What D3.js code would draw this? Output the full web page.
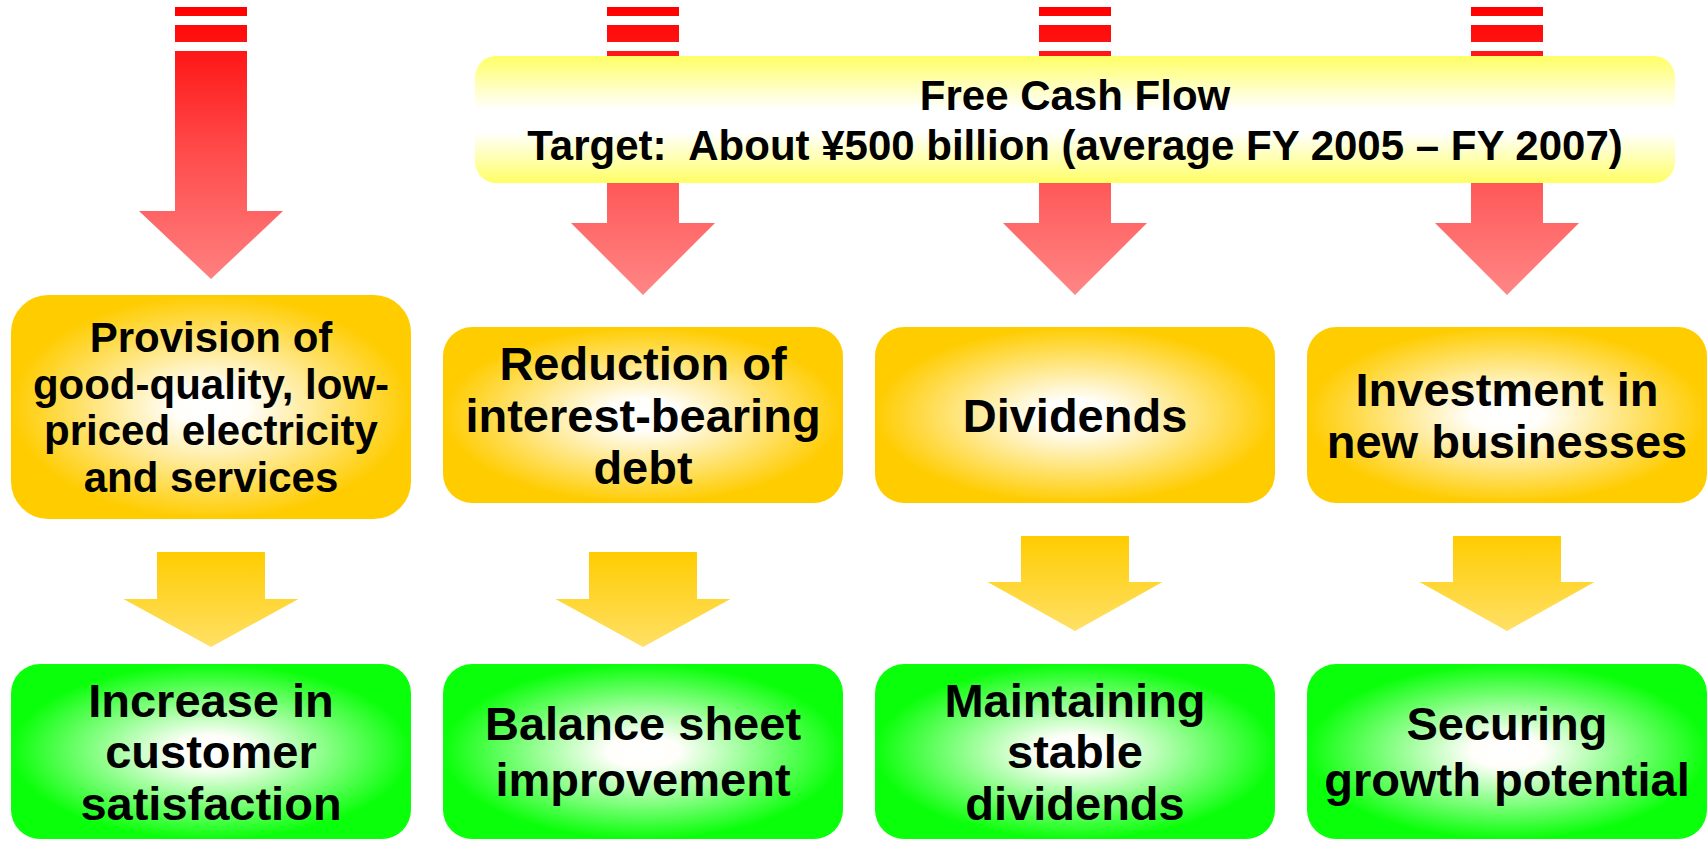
<!DOCTYPE html>
<html>
<head>
<meta charset="utf-8">
<script src="https://cdn.jsdelivr.net/npm/d3@7"></script>
<style>
  html, body { margin: 0; padding: 0; background: #fff; }
  svg { display: block; font-family: "Liberation Sans", Arial, sans-serif; font-weight: bold; }
</style>
</head>
<body>
<div id="chart"></div>
<script>
// text content of the diagram
const headline = ["Free Cash Flow", "Target:  About ¥500 billion (average FY 2005 – FY 2007)"];
const uses = [
  ["Provision of", "good-quality, low-", "priced electricity", "and services"],
  ["Reduction of", "interest-bearing", "debt"],
  ["Dividends"],
  ["Investment in", "new businesses"]
];
const outcomes = [
  ["Increase in", "customer", "satisfaction"],
  ["Balance sheet", "improvement"],
  ["Maintaining", "stable", "dividends"],
  ["Securing", "growth potential"]
];

const width = 1708, height = 842;

const svg = d3.select('#chart').append('svg')
  .attr('width', width)
  .attr('height', height);

const defs = svg.append('defs');

// gradients
const red = defs.append('linearGradient')
  .attr('id', 'redGrad')
  .attr('gradientUnits', 'userSpaceOnUse')
  .attr('x1', 0).attr('x2', 0).attr('y1', 7).attr('y2', 292);
red.append('stop').attr('offset', 0).attr('stop-color', '#ff0000');
red.append('stop').attr('offset', 0.5).attr('stop-color', '#ff4a4a');
red.append('stop').attr('offset', 1).attr('stop-color', '#ff8585');

const gold = defs.append('linearGradient')
  .attr('id', 'goldArrow')
  .attr('x1', 0).attr('x2', 0).attr('y1', 0).attr('y2', 1);
gold.append('stop').attr('offset', 0).attr('stop-color', '#ffcc00');
gold.append('stop').attr('offset', 1).attr('stop-color', '#ffe066');

function radial(id, edge) {
  const g = defs.append('radialGradient')
    .attr('id', id)
    .attr('cx', 0.5).attr('cy', 0.5).attr('r', 0.5);
  g.append('stop').attr('offset', 0).attr('stop-color', '#ffffff');
  g.append('stop').attr('offset', 0.18).attr('stop-color', '#fffefa');
  g.append('stop').attr('offset', 1).attr('stop-color', edge);
}
radial('orangeBox', '#ffcc00');
radial('greenBox', '#0aff0a');

const band = defs.append('linearGradient')
  .attr('id', 'fcfGrad')
  .attr('x1', 0).attr('x2', 0).attr('y1', 0).attr('y2', 1);
band.append('stop').attr('offset', 0).attr('stop-color', '#ffff66');
band.append('stop').attr('offset', 0.42).attr('stop-color', '#ffffff');
band.append('stop').attr('offset', 0.6).attr('stop-color', '#ffffff');
band.append('stop').attr('offset', 1).attr('stop-color', '#ffff66');

// columns
const x = d3.scaleBand()
  .domain(d3.range(uses.length))
  .range([11, 1707])
  .paddingInner(32 / 432);

// vertical layout of each column
const rows = i => i === 0
  ? {shaftEnd: 211, tip: 279, boxTop: 295, boxBot: 519, aTop: 552, aHead: 599, aTip: 647}
  : {shaftEnd: 223, tip: 295, boxTop: 327, boxBot: 503,
     aTop: i === 1 ? 552 : 536, aHead: i === 1 ? 599 : 582, aTip: i === 1 ? 647 : 631};
const resultTop = 664, resultBot = 839;

function rounded(g, x0, y0, w, h, fill) {
  g.append('rect')
    .attr('x', x0).attr('y', y0)
    .attr('width', w).attr('height', h)
    .attr('rx', Math.min(w, h) * 0.1667)
    .attr('fill', fill);
}

function label(g, cx, cy, lines, fs, lh) {
  const first = cy - (lines.length - 1) * lh / 2 + fs * 0.716 / 2;
  const t = g.append('text')
    .attr('text-anchor', 'middle')
    .attr('font-size', fs + 'px')
    .attr('fill', '#000')
    .style('white-space', 'pre');
  t.selectAll('tspan')
    .data(lines)
    .join('tspan')
      .attr('x', cx)
      .attr('y', (d, j) => first + j * lh)
      .text(d => d);
}

const cols = svg.selectAll('g.col')
  .data(d3.range(uses.length))
  .join('g')
    .attr('class', 'col');

cols.each(function(i) {
  const g = d3.select(this);
  const r = rows(i);
  const x0 = x(i), bw = x.bandwidth(), cx = x0 + bw / 2;

  // red arrow: two stripes then shaft + head
  const sw = 72, hw = 144;
  g.append('rect').attr('x', cx - sw / 2).attr('y', 7).attr('width', sw).attr('height', 9)
    .attr('fill', 'url(#redGrad)');
  g.append('rect').attr('x', cx - sw / 2).attr('y', 25).attr('width', sw).attr('height', 17)
    .attr('fill', 'url(#redGrad)');
  g.append('path')
    .attr('d', d3.line()([
      [cx - sw / 2, 51], [cx + sw / 2, 51], [cx + sw / 2, r.shaftEnd], [cx + hw / 2, r.shaftEnd],
      [cx, r.tip], [cx - hw / 2, r.shaftEnd], [cx - sw / 2, r.shaftEnd]
    ]) + 'Z')
    .attr('fill', 'url(#redGrad)');

  // use-of-cash box
  rounded(g, x0, r.boxTop, bw, r.boxBot - r.boxTop, 'url(#orangeBox)');
  const fs = uses[i].length > 3 ? 42 : 47;
  label(g, cx, (r.boxTop + r.boxBot) / 2, uses[i], fs, fs * 1.11);

  // gold arrow
  const gs = 108, gh = 175;
  g.append('path')
    .attr('d', d3.line()([
      [cx - gs / 2, r.aTop], [cx + gs / 2, r.aTop], [cx + gs / 2, r.aHead], [cx + gh / 2, r.aHead],
      [cx, r.aTip], [cx - gh / 2, r.aHead], [cx - gs / 2, r.aHead]
    ]) + 'Z')
    .attr('fill', 'url(#goldArrow)');

  // outcome box
  rounded(g, x0, resultTop, bw, resultBot - resultTop, 'url(#greenBox)');
  const olh = outcomes[i].length === 2 ? 56 : 51.7;
  label(g, cx, (resultTop + resultBot) / 2, outcomes[i], 47, olh);
});

// free cash flow banner on top of the red arrows
const banner = svg.append('g');
const bx0 = x(0) + x.step() + 32, bx1 = x(3) + x.bandwidth() - 32;
rounded(banner, bx0, 56, bx1 - bx0, 127, 'url(#fcfGrad)');
label(banner, (bx0 + bx1) / 2, 119.5, headline, 42, 50);
</script>
</body>
</html>
